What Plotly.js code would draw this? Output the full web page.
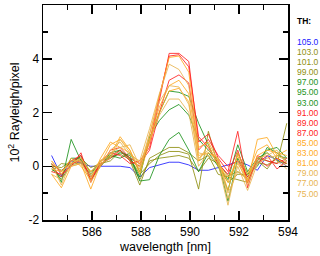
<!DOCTYPE html>
<html><head><meta charset="utf-8">
<script src="https://cdn.plot.ly/plotly-3.0.1.min.js"></script>
<style>html,body{margin:0;padding:0;background:#fff}#plot{width:320px;height:256px}</style>
</head><body><div id="plot"></div>
<script>
var wavelength = [584.35,584.75,585.15,585.55,585.95,586.35,586.75,587.15,587.55,587.95,588.35,588.75,589.15,589.55,589.95,590.35,590.75,591.15,591.55,591.95,592.35,592.75,593.15,593.55,593.95];
var thLabels = ["105.0","103.0","101.0","99.00","97.00","95.00","93.00","91.00","89.00","87.00","85.00","83.00","81.00","79.00","77.00","75.00"];
var thColors = ["#2020ff","#8f8f10","#8f8f10","#8f8f10","#1c931c","#1c931c","#1c931c","#ff2222","#ff2222","#ff2222","#ffaa22","#ffaa22","#ffaa22","#e8b450","#e8b450","#e8b450"];
var th105 = [0.40,-0.35,0.20,0.10,0.00,0.00,0.00,0.00,-0.05,-0.40,-0.05,0.05,0.15,0.15,0.05,-0.15,-0.15,-0.05,0.05,0.18,0.05,-0.15,0.40,0.25,0.00];
var th103 = [0.05,-0.15,0.10,0.25,-0.20,0.05,0.35,0.45,0.25,-0.50,0.20,0.30,0.35,0.40,0.30,-0.20,0.30,0.10,-0.35,-0.20,-0.45,0.15,0.05,0.30,0.10];
var th101 = [0.00,-0.05,0.20,0.30,-0.05,0.10,0.20,0.55,0.30,-0.30,0.10,0.40,0.55,0.55,0.45,-0.85,1.30,0.00,-0.60,-0.30,-0.30,0.20,-0.10,0.40,0.30];
var th99  = [-0.20,0.10,0.05,0.15,-0.30,0.00,0.40,0.60,0.20,-0.70,0.30,0.50,0.70,0.70,0.50,0.20,0.40,-0.30,-0.40,-0.50,-0.60,0.30,0.20,0.10,1.60];
var th97  = [0.10,-0.60,1.00,0.20,-0.40,0.10,0.30,0.50,0.40,-0.55,-0.50,0.40,1.00,1.26,0.60,-0.20,0.50,0.00,-0.90,0.50,-0.30,0.00,0.70,0.50,0.20];
var th95  = [-0.10,-0.40,0.30,0.30,-0.50,0.00,0.50,0.60,0.30,-0.40,1.10,1.70,2.10,2.30,1.90,1.00,0.60,0.20,-1.30,0.30,-0.40,0.20,0.60,0.70,0.30];
var th93  = [0.00,-0.50,0.10,0.40,-0.30,0.20,0.40,0.30,0.50,-0.20,1.00,2.00,2.80,2.75,2.60,1.60,0.80,0.00,-0.50,0.80,-0.20,0.30,0.50,0.20,0.10];
var th91  = [-0.20,-0.30,0.00,0.50,-0.60,0.20,0.50,0.40,0.10,0.20,0.70,2.40,4.20,4.20,3.90,0.90,1.20,0.30,-0.20,1.30,-0.80,0.40,0.20,0.10,0.30];
var th89  = [0.10,-0.20,0.20,0.40,-0.50,0.10,0.30,0.60,0.20,0.00,0.90,2.60,4.10,4.15,3.70,1.10,0.70,0.10,-0.30,0.60,-0.60,0.30,0.00,0.30,0.10];
var th87  = [0.00,-0.40,0.10,0.20,-0.40,0.00,0.60,0.70,0.30,0.10,0.60,2.00,3.20,3.40,3.10,0.60,1.00,0.40,0.00,0.20,-0.40,0.10,0.40,-0.10,0.20];
var th85  = [-0.30,-0.80,0.00,0.10,-0.85,0.10,0.80,1.00,0.60,-0.20,1.20,2.60,4.05,4.10,3.50,0.70,0.90,0.20,-0.60,0.40,-0.60,1.00,1.07,0.40,0.60];
var th83  = [0.20,-0.30,0.30,0.00,-0.50,0.30,0.90,0.70,0.50,0.10,1.00,2.20,3.00,3.20,2.70,0.40,0.50,0.30,-0.90,0.50,-0.30,0.60,0.80,0.30,0.00];
var th81  = [-0.10,-0.20,0.10,0.30,-0.20,0.20,0.40,1.10,0.60,-0.30,0.90,2.00,2.80,2.90,2.40,0.20,0.80,0.00,-0.40,0.10,-0.50,0.40,0.60,0.50,0.40];
var th79  = [0.10,-0.70,0.20,0.20,-0.60,0.00,0.60,0.90,0.40,0.20,1.40,2.70,3.80,3.60,3.00,0.50,0.40,0.10,-1.45,0.20,-0.70,0.20,0.50,0.20,-0.10];
var th77  = [-0.30,-0.50,0.00,0.10,-0.40,0.20,0.50,0.70,0.80,0.00,1.20,2.40,3.00,2.95,2.30,0.30,0.60,0.30,-1.20,0.00,-0.90,0.10,0.30,0.40,0.20];
var th75  = [0.20,-0.20,0.10,0.30,-0.30,0.10,0.30,1.00,0.50,-0.10,1.00,1.90,2.50,2.50,2.00,0.00,0.50,0.20,-1.00,-0.20,-0.50,0.30,0.40,0.60,0.10];
var xTicks = [586,588,590,592,594];
var yTicks = [-2,0,2,4];

var series = [th105,th103,th101,th99,th97,th95,th93,th91,th89,th87,th85,th83,th81,th79,th77,th75];
var traces = series.map(function(s,i){
  return {x: wavelength, y: s, type:'scatter', mode:'lines', name: thLabels[i],
    line:{color: thColors[i], width:1}, opacity:0.85, showlegend:false, hoverinfo:'skip'};
});

var FONT = 'Liberation Sans, Arial, sans-serif';
var annotations = [{text:'<b>TH:</b>', xref:'paper', yref:'paper', x:1.03, y:(220-21)/215,
  xanchor:'left', yanchor:'middle', showarrow:false, font:{family:FONT,size:8.5,color:'#000'}}];
thLabels.forEach(function(t,i){
  annotations.push({text:t, xref:'paper', yref:'paper', x:1.03, y:(220-(42+10.1*i))/215,
    xanchor:'left', yanchor:'middle', showarrow:false, font:{family:FONT,size:8.5,color:thColors[i]}});
});

var axisCommon = {showgrid:false, zeroline:false, showline:true, linecolor:'#000', linewidth:1.5,
  mirror:'ticks', ticks:'inside', ticklen:9, tickwidth:1.5, tickcolor:'#000',
  tickfont:{family:FONT,size:12,color:'#000'}};

var layout = {
  width:320, height:256, margin:{l:43, r:32, t:5, b:36},
  paper_bgcolor:'#fff', plot_bgcolor:'#fff',
  xaxis: Object.assign({}, axisCommon, {range:[584,594], tickvals:xTicks, ticktext:xTicks.map(String),
    minor:{dtick:1, tick0:584, ticks:'inside', ticklen:5, tickwidth:1.5, tickcolor:'#000', showgrid:false},
    title:{text:'wavelength [nm]', font:{family:FONT,size:12.5,color:'#000'}, standoff:4}}),
  yaxis: Object.assign({}, axisCommon, {range:[-2,6], tickvals:yTicks, ticktext:yTicks.map(String),
    minor:{dtick:1, tick0:-2, ticks:'inside', ticklen:5, tickwidth:1.5, tickcolor:'#000', showgrid:false},
    title:{text:'10<sup>2</sup> Rayleigh/pixel', font:{family:FONT,size:12.5,color:'#000'}, standoff:6}}),
  annotations: annotations,
  showlegend:false
};
Plotly.newPlot('plot', traces, layout, {staticPlot:true, displayModeBar:false});
</script></body></html>
